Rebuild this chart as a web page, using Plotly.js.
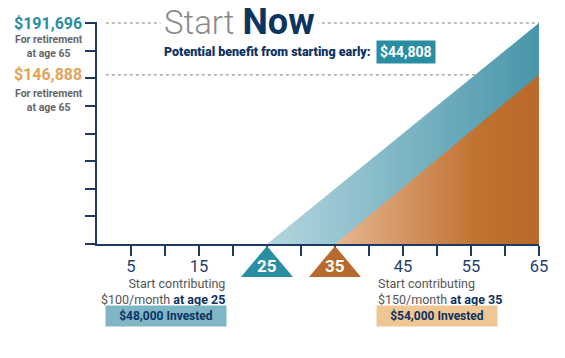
<!DOCTYPE html>
<html><head><meta charset="utf-8">
<script src="https://cdn.plot.ly/plotly-3.0.1.min.js"></script>
<style>html,body{margin:0;padding:0;background:#fff;}#chart{width:565px;height:358px;}</style>
</head><body><div id="chart"></div>
<script>
// ---- data ----
const startAges = [25, 35];
const retireAge = 65;
const totalsAt65 = [191696, 146888];
const monthly = [100, 150];
const invested = [48000, 54000];
const benefit = 44808;
const tickAges = [5,10,15,20,25,30,35,40,45,50,55,60,65];
const tickLabels = ["5","","15","","","","","","45","","55","","65"];

const NAVY = "#0d3361", TEAL = "#2a8ea3", ORANGE = "#b9692b", GRAY = "#666";
const AXIS = "#1c3a64";
const FONT = "Roboto, 'Open Sans', sans-serif";
const yMax = totalsAt65[0] * 222 / 221;
const fmt = v => "$" + v.toLocaleString("en-US");
const markerColors = [TEAL, ORANGE];

const traces = [
  {x: [startAges[0], retireAge], y: [0, totalsAt65[0]], mode: "lines", line: {width: 0},
   fill: "tozeroy", fillcolor: "#5fa2b5",
   fillgradient: {type: "horizontal", colorscale: [[0, "#b4d6df"], [1, "#4895aa"]]},
   hoverinfo: "skip"},
  {x: [startAges[1], retireAge], y: [0, totalsAt65[1]], mode: "lines", line: {width: 0},
   fill: "tozeroy", fillcolor: "#c98048",
   fillgradient: {type: "horizontal", colorscale: [[0, "#e6b692"], [0.7, "#c0722f"], [1, "#b9692b"]]},
   hoverinfo: "skip"}
];

const annotations = [
  {xref: "paper", yref: "paper", x: 0.142, y: 1.0, xanchor: "left", yanchor: "middle", showarrow: false,
   bgcolor: "#fff", borderpad: 3,
   text: '<span style="color:#8a8a8a;font-weight:300;font-size:33px">Start </span><b style="color:' + NAVY + ';font-size:36px;font-weight:900">Now</b>',
   font: {family: FONT, size: 33}},
  {xref: "paper", yref: "paper", x: 0.147, y: 0.865, xanchor: "left", yanchor: "middle", showarrow: false,
   text: "Potential benefit from starting early:", font: {family: FONT, size: 12.5, color: NAVY, weight: 900}},
  {xref: "paper", yref: "paper", x: 0.7, y: 0.865, xanchor: "center", yanchor: "middle", showarrow: false,
   text: "<b>" + fmt(benefit) + "</b>", bgcolor: TEAL, borderpad: 3,
   font: {family: FONT, size: 14, color: "#fff"}},
  {xref: "paper", yref: "y", x: -0.029, y: totalsAt65[0], xanchor: "right", yanchor: "middle", showarrow: false,
   text: "<b>" + fmt(totalsAt65[0]) + "</b>", font: {family: FONT, size: 16, color: TEAL}},
  {xref: "paper", yref: "paper", x: -0.027, y: 0.891, xanchor: "right", yanchor: "middle", showarrow: false, align: "center",
   text: "<b>For retirement<br>at age " + retireAge + "</b>", font: {family: FONT, size: 10.5, color: GRAY}},
  {xref: "paper", yref: "y", x: -0.029, y: totalsAt65[1], xanchor: "right", yanchor: "middle", showarrow: false,
   text: "<b>" + fmt(totalsAt65[1]) + "</b>", font: {family: FONT, size: 16, color: "#e3a35a"}},
  {xref: "paper", yref: "paper", x: -0.027, y: 0.648, xanchor: "right", yanchor: "middle", showarrow: false, align: "center",
   text: "<b>For retirement<br>at age " + retireAge + "</b>", font: {family: FONT, size: 10.5, color: GRAY}},
  {xref: "paper", yref: "paper", x: 0.294, y: -0.215, xanchor: "right", yanchor: "middle", showarrow: false, align: "right",
   text: "Start contributing<br>$" + monthly[0] + '/month <b style="color:' + NAVY + '">at age ' + startAges[0] + "</b>",
   font: {family: FONT, size: 12.5, color: "#555"}},
  {xref: "paper", yref: "paper", x: 0.631, y: -0.215, xanchor: "left", yanchor: "middle", showarrow: false, align: "left",
   text: "Start contributing<br>$" + monthly[1] + '/month <b style="color:' + NAVY + '">at age ' + startAges[1] + "</b>",
   font: {family: FONT, size: 12.5, color: "#555"}},
  {xref: "paper", yref: "paper", x: 0.156, y: -0.326, xanchor: "center", yanchor: "middle", showarrow: false,
   text: "<b>" + fmt(invested[0]) + " Invested</b>", bgcolor: "#7fb6c6", width: 116, height: 16, borderpad: 2,
   font: {family: FONT, size: 12, color: NAVY}},
  {xref: "paper", yref: "paper", x: 0.769, y: -0.326, xanchor: "center", yanchor: "middle", showarrow: false,
   text: "<b>" + fmt(invested[1]) + " Invested</b>", bgcolor: "#efc794", width: 116, height: 16, borderpad: 2,
   font: {family: FONT, size: 12, color: NAVY}}
];
// age labels inside the triangles
startAges.forEach(a => annotations.push({xref: "x", yref: "paper", x: a, y: -0.097, xanchor: "center", yanchor: "middle",
  showarrow: false, text: "<b>" + a + "</b>", font: {family: FONT, size: 17, color: "#fff"}}));

const shapes = totalsAt65.map(v => ({type: "line", xref: "paper", yref: "y", x0: 0.02, x1: 1, y0: v, y1: v,
  line: {color: "#aaaaaa", width: 1.5, dash: "dot"}, layer: "below"}));
// triangle markers below the axis at each starting age (pixel-sized, anchored at the age)
startAges.forEach((a, i) => shapes.push({type: "path", xref: "x", yref: "paper", xsizemode: "pixel", ysizemode: "pixel",
  xanchor: a, yanchor: 0, path: "M0,-2 L26,-33 L-26,-33 Z", fillcolor: markerColors[i], line: {width: 0}, layer: "above"}));

const layout = {
  width: 565, height: 358,
  margin: {l: 97, r: 26, t: 22, b: 114},
  paper_bgcolor: "#fff", plot_bgcolor: "#fff",
  showlegend: false,
  xaxis: {range: [0, retireAge], showgrid: false, zeroline: false, showline: true, linecolor: AXIS, linewidth: 2,
    tickmode: "array", tickvals: tickAges, ticktext: tickLabels, ticks: "outside", ticklen: 10, tickwidth: 2,
    tickcolor: AXIS, ticklabelstandoff: -4, tickfont: {family: FONT, size: 16.5, color: "#24406a"}, fixedrange: true},
  yaxis: {range: [0, yMax], showgrid: false, zeroline: false, showline: true, linecolor: AXIS, linewidth: 2,
    tick0: 0, dtick: totalsAt65[0] / 8, ticks: "outside", ticklen: 10, tickwidth: 2, tickcolor: AXIS,
    showticklabels: false, fixedrange: true},
  annotations: annotations,
  shapes: shapes
};
Plotly.newPlot("chart", traces, layout, {displayModeBar: false, staticPlot: true});
</script></body></html>
